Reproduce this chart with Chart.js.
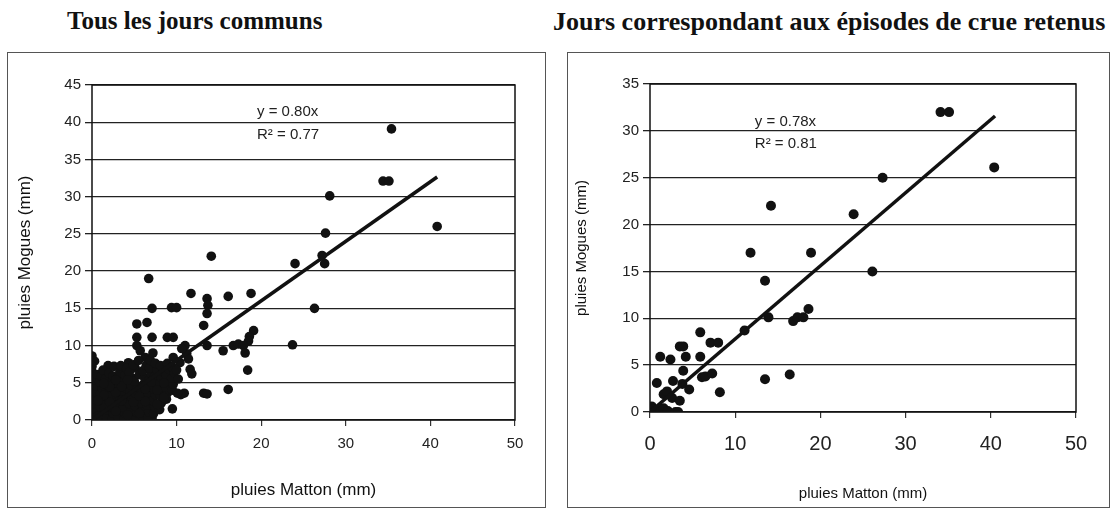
<!DOCTYPE html>
<html>
<head>
<meta charset="utf-8">
<script src="https://cdn.jsdelivr.net/npm/chart.js@4.4.0/dist/chart.umd.min.js"></script>
<style>
  body { margin: 0; background: #fff; width: 1115px; height: 509px; position: relative; overflow: hidden; }
  .title { position: absolute; top: 7px; font-family: "Liberation Serif", "DejaVu Serif", serif; font-weight: bold; color: #111; white-space: nowrap; }
  .box { position: absolute; border: 1px solid #555; background: #fff; }
  .box canvas { display: block; }
</style>
</head>
<body>
<div class="title" style="left:67px;font-size:25px;">Tous les jours communs</div>
<div class="title" style="left:553px;font-size:26px;">Jours correspondant aux épisodes de crue retenus</div>
<div class="box" style="left:7px;top:52px;"><canvas id="chartAll" width="537" height="454"></canvas></div>
<div class="box" style="left:567px;top:52px;"><canvas id="chartCrue" width="541" height="454"></canvas></div>
<script>
// pluies Matton (x) / pluies Mogues (y), mm - all common days
var allDays = [
  // sparse points
  [40.8, 26.0], [35.4, 39.1], [34.4, 32.1], [35.1, 32.1], [28.1, 30.1], [27.6, 25.1], [27.2, 22.1], [27.5, 21.0],
  [24.0, 21.0], [26.3, 15.0], [23.7, 10.1], [14.1, 22.0], [6.7, 19.0], [11.7, 17.0], [16.1, 16.6], [18.8, 17.0],
  [13.6, 16.3], [13.7, 15.4], [13.6, 14.3], [13.2, 12.7], [7.1, 15.0], [9.4, 15.1], [10.0, 15.1], [5.3, 12.9],
  [6.5, 13.1], [19.1, 12.0], [18.6, 11.2], [18.5, 10.6], [5.3, 11.1], [7.1, 11.1], [8.9, 11.1], [9.6, 11.1],
  [11.0, 10.0], [13.6, 10.0], [15.5, 9.3], [16.7, 10.0], [17.3, 10.2], [17.9, 10.0], [18.1, 9.0], [18.4, 6.7],
  [11.6, 6.8], [11.8, 6.2], [16.1, 4.1], [10.9, 3.6], [13.2, 3.6], [13.6, 3.5], [9.5, 1.5], [11.2, 8.9],
  [11.4, 8.2], [10.6, 9.6], [9.6, 8.4], [10.4, 7.7], [5.3, 10.0], [5.7, 9.3], [6.3, 8.4], [0.0, 8.6],
  [0.3, 7.9], [1.9, 7.3], [4.3, 7.7], [5.1, 7.0], [10.5, 3.4], [7.1, 0.3], [6.3, 0.1],
  // dense cluster near the origin
  [0.0, 0.2], [0.0, 0.9], [0.0, 1.7], [0.0, 2.5], [0.0, 3.3], [0.0, 4.1], [0.0, 4.9], [0.0, 5.7], [0.0, 6.5], [0.0, 7.2],
  [0.4, 0.5], [0.5, 1.4], [0.3, 2.2], [0.6, 3.0], [0.4, 3.8], [0.5, 4.6], [0.3, 5.4], [0.6, 6.1],
  [1.0, 0.1], [1.1, 0.9], [0.9, 1.8], [1.2, 2.6], [1.0, 3.5], [1.2, 4.3], [0.9, 5.1], [1.1, 5.9], [1.3, 6.7],
  [1.7, 0.4], [1.8, 1.3], [1.6, 2.1], [1.9, 3.0], [1.7, 3.9], [1.8, 4.7], [1.6, 5.5], [2.0, 6.3],
  [2.4, 0.1], [2.5, 0.9], [2.3, 1.7], [2.6, 2.6], [2.4, 3.4], [2.6, 4.2], [2.3, 5.0], [2.5, 5.9], [2.6, 7.2],
  [3.1, 0.4], [3.2, 1.3], [3.0, 2.1], [3.3, 3.0], [3.1, 3.8], [3.2, 4.7], [3.0, 5.6], [3.3, 6.5], [3.4, 7.3],
  [3.8, 0.1], [3.9, 0.9], [3.7, 1.7], [4.0, 2.5], [3.8, 3.4], [4.0, 4.3], [3.7, 5.1], [3.9, 6.0], [4.1, 6.9],
  [4.5, 0.5], [4.6, 1.3], [4.4, 2.2], [4.7, 3.0], [4.5, 3.9], [4.6, 4.7], [4.8, 5.6], [4.4, 6.4], [4.9, 7.4],
  [5.2, 0.2], [5.3, 1.0], [5.1, 1.9], [5.4, 2.7], [5.2, 3.5], [5.4, 4.4], [5.0, 5.2], [5.6, 6.1], [5.5, 8.0],
  [5.9, 0.6], [6.0, 1.5], [5.8, 2.3], [6.1, 3.1], [5.9, 4.0], [6.1, 4.8], [6.2, 5.7], [6.0, 6.6], [6.4, 7.3],
  [6.6, 0.3], [6.7, 1.1], [6.5, 2.0], [6.8, 2.8], [6.6, 3.6], [6.9, 4.5], [6.7, 5.3], [7.0, 6.2], [6.8, 7.0], [6.9, 8.0],
  [7.3, 0.9], [7.4, 1.8], [7.2, 2.6], [7.5, 3.4], [7.3, 4.2], [7.6, 5.0], [7.4, 5.8], [7.7, 6.7], [7.5, 7.6], [7.2, 9.0],
  [8.0, 1.4], [8.2, 2.3], [8.1, 3.2], [8.3, 4.1], [8.0, 4.9], [8.2, 5.7], [8.4, 6.5], [8.1, 7.3],
  [8.8, 2.8], [8.9, 3.6], [8.7, 4.4], [9.0, 5.2], [8.8, 6.0], [9.1, 6.8], [8.9, 7.6],
  [9.5, 4.0], [9.6, 4.8], [9.4, 5.6], [9.7, 6.4], [9.5, 7.1], [10.1, 3.6], [10.2, 5.5], [10.0, 6.7],
  // extra fill in the cluster
  [0.7, 0.5], [1.4, 1.6], [2.1, 2.4], [2.8, 3.7], [3.5, 4.5], [4.2, 5.4], [1.4, 3.3], [2.8, 1.2],
  [3.5, 2.6], [4.9, 2.4], [5.6, 3.2], [6.3, 4.2], [7.0, 5.1], [7.7, 4.0], [8.5, 5.0], [6.3, 2.5],
  [2.1, 4.5], [2.8, 5.4], [0.7, 2.6], [1.4, 4.9], [4.2, 0.7], [5.6, 0.9], [7.7, 2.1], [8.5, 3.0]
];

// days of the selected flood episodes
var crueDays = [
  [0.2, 0.6], [0.4, 0.3], [0.6, 0.1], [1.2, 0.2], [1.6, 0.4], [2.1, 0.1], [3.0, 0.0], [3.3, 0.0],
  [0.8, 3.1], [1.2, 5.9], [2.4, 5.6], [1.6, 1.9], [2.0, 2.2], [2.6, 1.5], [3.5, 1.2], [2.7, 3.3],
  [3.8, 3.0], [3.9, 4.4], [4.6, 2.4], [3.5, 7.0], [3.9, 7.0], [4.2, 5.9], [5.9, 8.5], [5.9, 5.9],
  [6.1, 3.7], [6.5, 3.8], [7.3, 4.1], [7.1, 7.4], [8.0, 7.4], [8.2, 2.1], [11.1, 8.7], [11.8, 17.0],
  [13.5, 3.5], [13.5, 14.0], [13.9, 10.1], [14.2, 22.0], [16.4, 4.0], [16.8, 9.7], [17.3, 10.1], [18.0, 10.1],
  [18.6, 11.0], [18.9, 17.0], [23.9, 21.1], [26.1, 15.0], [27.3, 25.0], [34.1, 32.0], [35.1, 32.0], [40.4, 26.1]
];

// trend lines (forced through origin)
var slopeAll = 0.80, r2All = 0.77, trendXAll = [0, 40.8];
var slopeCrue = 0.78, r2Crue = 0.81, trendXCrue = [0, 40.5];

var xTicks = [0, 10, 20, 30, 40, 50];
var yMaxAll = 45, yMaxCrue = 35;

function toPoints(list) {
  return list.map(function (p) { return { x: p[0], y: p[1] }; });
}
function trendPoints(xs, slope) {
  return xs.map(function (x) { return { x: x, y: slope * x }; });
}

// frame around plot area + regression labels
var framePlugin = {
  id: 'frame',
  beforeDatasetsDraw: function (chart) {
    var a = chart.chartArea, ctx = chart.ctx;
    ctx.save();
    ctx.strokeStyle = '#111';
    ctx.lineWidth = 1.5;
    ctx.strokeRect(a.left, a.top, a.right - a.left, a.bottom - a.top);
    ctx.restore();
  },
  afterDraw: function (chart, args, opts) {
    var ctx = chart.ctx, sx = chart.scales.x, sy = chart.scales.y;
    ctx.save();
    ctx.font = opts.font;
    ctx.fillStyle = '#222';
    ctx.textBaseline = 'middle';
    opts.lines.forEach(function (l) {
      ctx.fillText(l.text, sx.getPixelForValue(l.x), sy.getPixelForValue(l.y));
    });
    ctx.restore();
  }
};

function buildChart(id, s) {
  var sans = '"Liberation Sans", Arial, sans-serif';
  return new Chart(document.getElementById(id), {
    type: 'scatter',
    data: {
      datasets: [
        {
          type: 'line', data: trendPoints(s.trendX, s.slope), borderColor: '#111', borderWidth: 3.5,
          pointRadius: 0, fill: false
        },
        {
          data: toPoints(s.points), backgroundColor: '#111', borderColor: '#111', pointRadius: s.radius, borderWidth: 0
        }
      ]
    },
    options: {
      responsive: false,
      animation: false,
      layout: { padding: { top: s.padTop, right: s.padRight, left: 0, bottom: 0 } },
      plugins: {
        legend: { display: false },
        tooltip: { enabled: false },
        frame: { font: '15px ' + sans, lines: s.labels }
      },
      scales: {
        x: {
          type: 'linear', min: 0, max: 50,
          afterBuildTicks: function (axis) { axis.ticks = xTicks.map(function (v) { return { value: v }; }); },
          afterFit: function (axis) { axis.height = s.xAxisH; },
          grid: { drawOnChartArea: false, drawTicks: true, tickLength: 6, color: '#333', lineWidth: 1.2 },
          border: { display: false },
          ticks: { autoSkip: false, maxRotation: 0, color: '#222', padding: s.xTickPad, font: { family: sans, size: s.xTickSize } },
          title: { display: true, text: 'pluies Matton (mm)', color: '#111', font: { family: sans, size: s.titleSize }, padding: { top: 0, bottom: s.xTitlePad } }
        },
        y: {
          type: 'linear', min: 0, max: s.yMax,
          ticks: { stepSize: 5, autoSkip: false, color: '#222', padding: 4, font: { family: sans, size: 15 } },
          afterFit: function (axis) { axis.width = s.yAxisW; },
          grid: { color: '#222', lineWidth: 1.3, tickLength: 7 },
          border: { display: false },
          title: { display: true, text: 'pluies Mogues (mm)', color: '#111', font: { family: sans, size: s.titleSize }, padding: { top: s.yTitlePad, bottom: 0 } }
        }
      }
    },
    plugins: [framePlugin]
  });
}

buildChart('chartAll', {
  points: allDays, slope: slopeAll, trendX: trendXAll, yMax: yMaxAll, radius: 4.8,
  padTop: 32, padRight: 30, yAxisW: 84, xAxisH: 87, xTickPad: 9, xTickSize: 15,
  titleSize: 17, xTitlePad: 6, yTitlePad: 7,
  labels: [
    { text: 'y = ' + slopeAll.toFixed(2) + 'x', x: 19.5, y: 41.4 },
    { text: 'R² = ' + r2All.toFixed(2), x: 19.5, y: 38.3 }
  ]
});

buildChart('chartCrue', {
  points: crueDays, slope: slopeCrue, trendX: trendXCrue, yMax: yMaxCrue, radius: 5,
  padTop: 31, padRight: 33, yAxisW: 82, xAxisH: 95, xTickPad: 14, xTickSize: 20,
  titleSize: 15, xTitlePad: 4, yTitlePad: 5,
  labels: [
    { text: 'y = ' + slopeCrue.toFixed(2) + 'x', x: 12.3, y: 31.0 },
    { text: 'R² = ' + r2Crue.toFixed(2), x: 12.3, y: 28.6 }
  ]
});
</script>
</body>
</html>
